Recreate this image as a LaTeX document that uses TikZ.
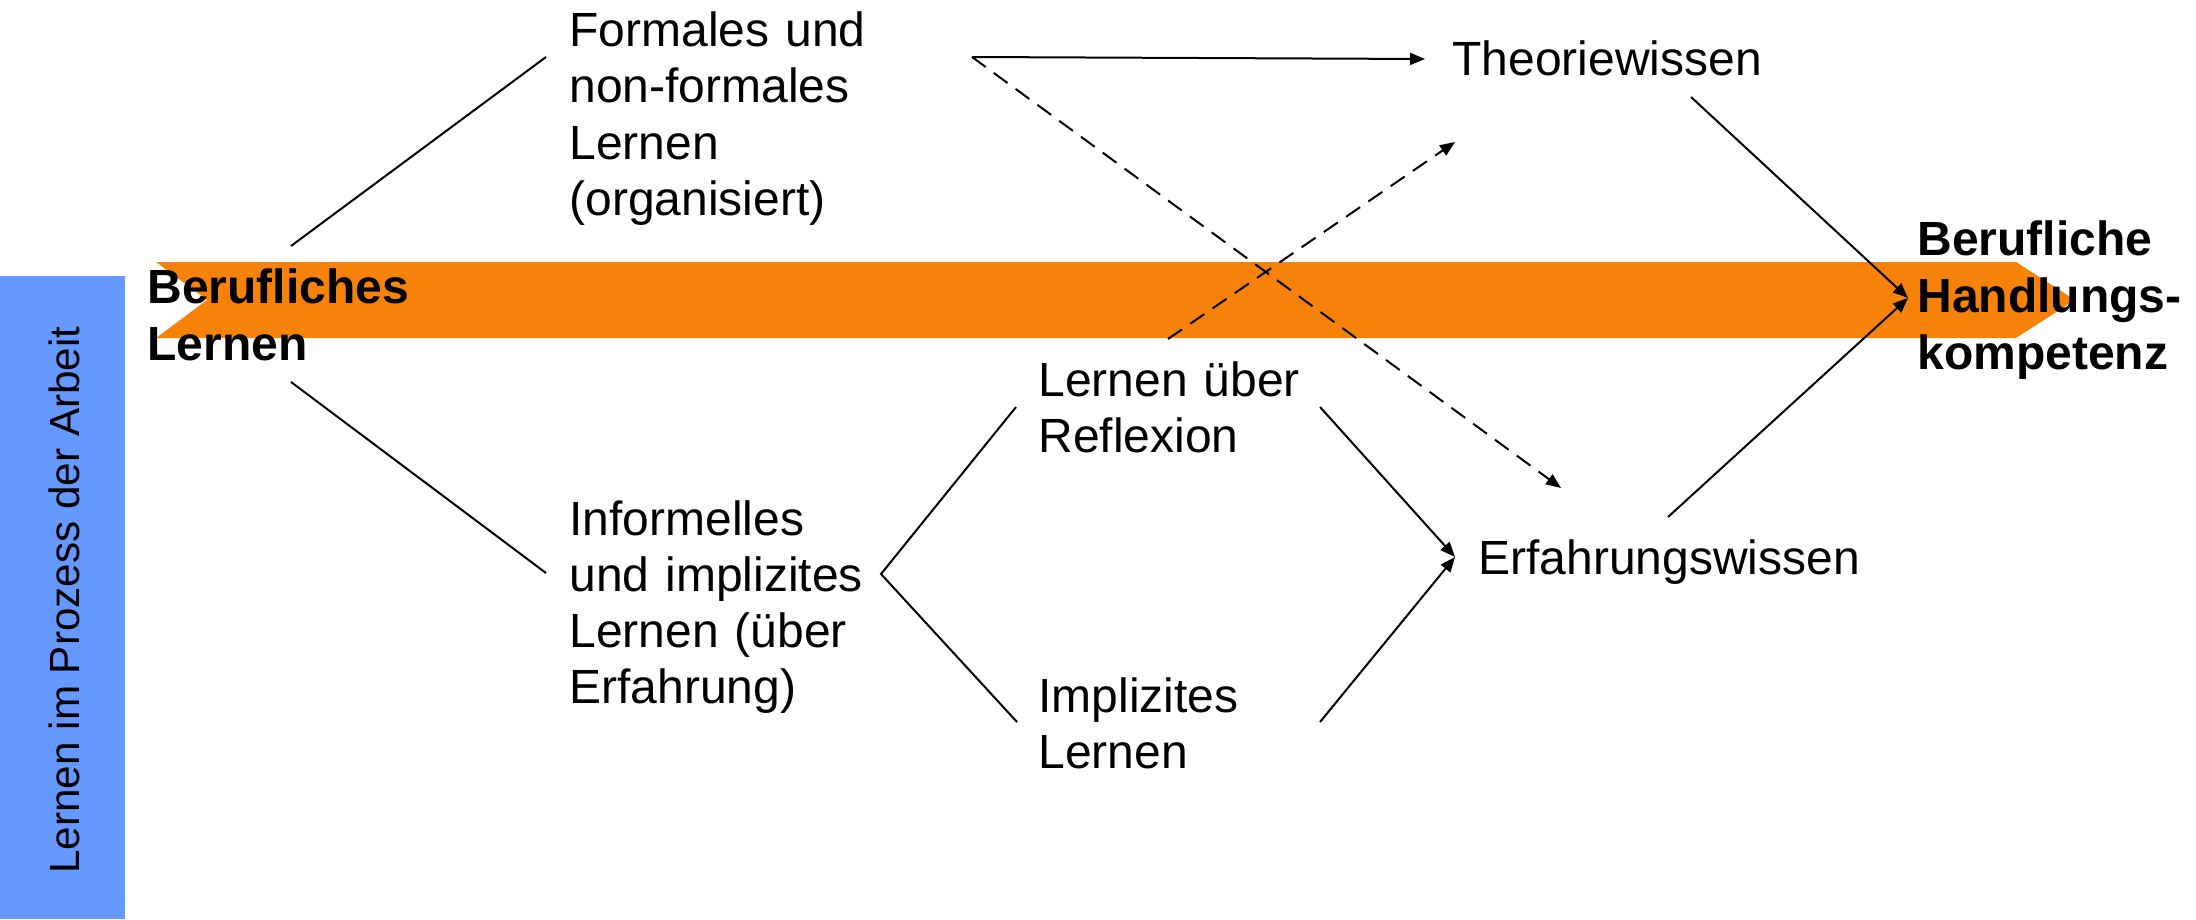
\documentclass[tikz,border=0pt]{standalone}
\usepackage{fontspec}
\setmainfont{Liberation Sans}
\usetikzlibrary{arrows.meta}
\definecolor{bandorange}{RGB}{247,130,10}
\definecolor{sideblue}{RGB}{102,153,255}
\begin{document}
\begin{tikzpicture}[x=0.4pt,y=-0.4pt,
  lbl/.style={anchor=base west, inner sep=0pt, text width=230pt, align=left,
    font=\fontsize{19.2}{22.4}\selectfont},
  boldlbl/.style={lbl, font=\fontsize{19.2}{22.8}\selectfont\bfseries},
  conn/.style={line width=0.8pt, black},
  arr/.style={conn, -{Triangle[length=6pt,width=4.8pt]}},
  dasharr/.style={arr, dash pattern=on 6.8pt off 4pt}]
\useasboundingbox (0,0) rectangle (2196,919);
% background shapes
\fill[sideblue] (0,276) rectangle (125,919);
\fill[bandorange] (156,262) -- (2016,262) -- (2075,300) -- (2016,338) -- (156,338) -- (207,300) -- cycle;
% texts
\node[rotate=90, anchor=base, inner sep=0pt, font=\fontsize{16.9}{20}\selectfont] (side) at (79,600) {Lernen im Prozess der Arbeit};
\node[boldlbl] (beruf) at (147,303) {Berufliches\\Lernen};
\node[boldlbl] (kompetenz) at (1917,255) {Berufliche\\Handlungs-\\kompetenz};
\node[lbl] (formal) at (569,47) {Formales und\\non-formales\\Lernen\\(organisiert)};
\node[lbl] (informal) at (569,535) {Informelles\\und implizites\\Lernen (über\\Erfahrung)};
\node[lbl] (theorie) at (1452,76) {Theoriewissen};
\node[lbl] (reflex) at (1038,396) {Lernen über\\Reflexion};
\node[lbl] (implizit) at (1038,712) {Implizites\\Lernen};
\node[lbl] (erfahr) at (1478,574) {Erfahrungswissen};
% connector end points
\coordinate (bA) at (291,246);
\coordinate (fA) at (546,57);
\coordinate (bB) at (291,382);
\coordinate (iA) at (546,573);
\coordinate (iapex) at (881,574);
\coordinate (rA) at (1016,407);
\coordinate (pA) at (1017,722);
\coordinate (rB) at (1320,407);
\coordinate (pB) at (1320,722);
\coordinate (eIn) at (1455,557);
\coordinate (fB) at (972,57);
\coordinate (tIn) at (1425,59);
\coordinate (eDash) at (1561,488);
\coordinate (rDash) at (1168,339);
\coordinate (tDash) at (1455,142);
\coordinate (tOut) at (1691,97);
\coordinate (eOut) at (1668,517);
\coordinate (kIn) at (1908,298);
% connectors
\draw[conn] (bA) -- (fA);
\draw[conn] (bB) -- (iA);
\draw[conn] (rA) -- (iapex) -- (pA);
\draw[arr] (rB) -- (eIn);
\draw[arr] (pB) -- (eIn);
\draw[arr] (fB) -- (tIn);
\draw[dasharr] (fB) -- (eDash);
\draw[dasharr] (rDash) -- (tDash);
\draw[arr] (tOut) -- (kIn);
\draw[arr] (eOut) -- (kIn);
\end{tikzpicture}
\end{document}
